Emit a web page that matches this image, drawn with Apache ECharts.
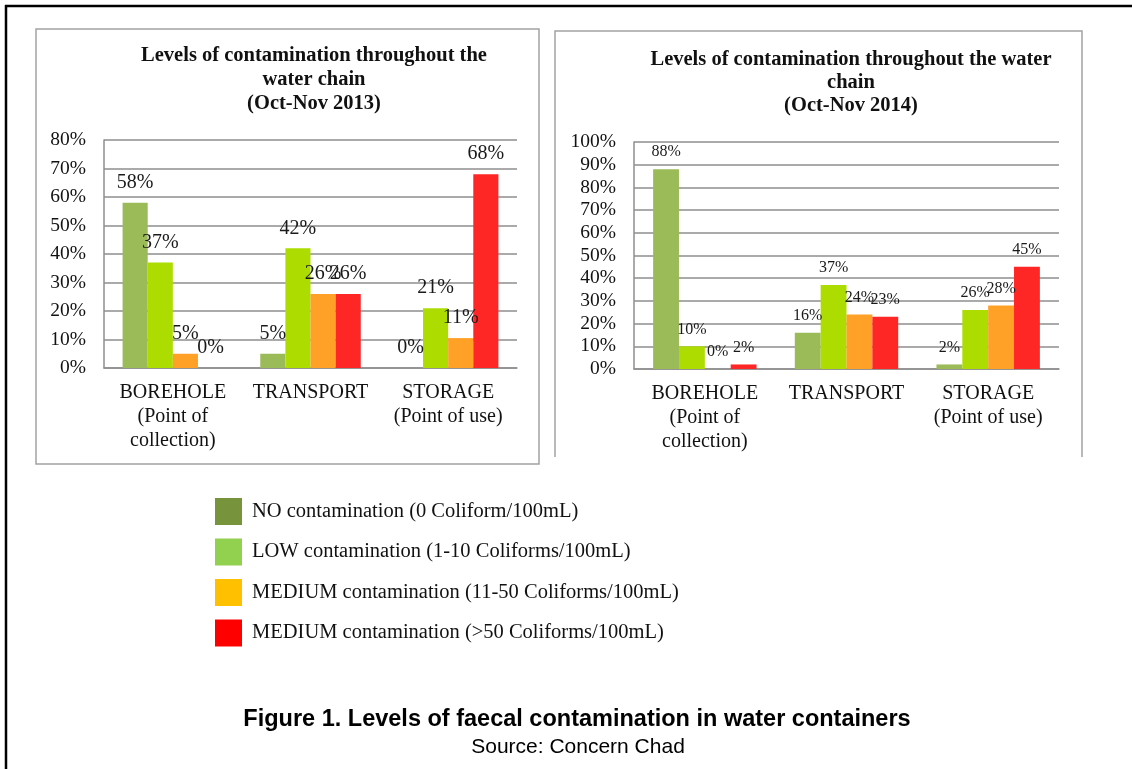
<!DOCTYPE html>
<html>
<head>
<meta charset="utf-8">
<script src="https://cdn.jsdelivr.net/npm/echarts@6/dist/echarts.min.js"></script>
<style>
  html, body { margin: 0; padding: 0; background: #fff; }
  #main { width: 1132px; height: 769px; }
</style>
</head>
<body>
<div id="main"></div>
<script>
// categories along the water chain
var categories = ['BOREHOLE\n(Point of\ncollection)', 'TRANSPORT', 'STORAGE\n(Point of use)'];
var seriesNames = [
  'NO contamination (0 Coliform/100mL)',
  'LOW contamination (1-10 Coliforms/100mL)',
  'MEDIUM contamination (11-50 Coliforms/100mL)',
  'MEDIUM contamination (>50 Coliforms/100mL)'
];

// Oct-Nov 2013 (%)
var none2013 = [58, 5, 0];
var low2013 = [37, 42, 21];
var medium2013 = [5, 26, 10.5];
var high2013 = [0, 26, 68];

// Oct-Nov 2014 (%)
var none2014 = [88, 16, 2];
var low2014 = [10, 37, 26];
var medium2014 = [0, 24, 28];
var high2014 = [2, 23, 45];

var ticks2013 = { min: 0, max: 80, interval: 10 };
var ticks2014 = { min: 0, max: 100, interval: 10 };

var barColors = ['#9bbb59', '#addc00', '#ffa126', '#ff2626'];
var legendColors = ['#77933c', '#92d050', '#ffc000', '#ff0000'];

var serif = 'Liberation Serif';
var gridGray = '#8e8e8e';

function makeSeries(data, idx, gridIdx, fontSize, dist) {
  return {
    name: seriesNames[idx],
    type: 'bar',
    xAxisIndex: gridIdx,
    yAxisIndex: gridIdx,
    data: data,
    barGap: '0%',
    barCategoryGap: '27%',
    itemStyle: { color: barColors[idx] },
    label: {
      show: true,
      position: 'top',
      distance: dist,
      fontFamily: serif,
      fontSize: fontSize,
      color: '#1a1a1a',
      formatter: function (p) { return Math.round(p.value) + '%'; }
    }
  };
}

function makeYAxis(gridIdx, t) {
  return {
    type: 'value',
    gridIndex: gridIdx,
    min: t.min,
    max: t.max,
    interval: t.interval,
    axisLine: { show: true, lineStyle: { color: gridGray, width: 1.5 } },
    axisTick: { show: false },
    axisLabel: { formatter: '{value}%', fontFamily: serif, fontSize: 19.5, color: '#111', margin: 18 },
    splitLine: { lineStyle: { color: gridGray, width: 1.5 } }
  };
}

function makeXAxis(gridIdx) {
  return {
    type: 'category',
    gridIndex: gridIdx,
    data: categories,
    axisLine: { lineStyle: { color: gridGray, width: 1.5 } },
    axisTick: { show: false },
    axisLabel: { fontFamily: serif, fontSize: 20, lineHeight: 24, color: '#111', margin: 13, interval: 0 }
  };
}

var chart = echarts.init(document.getElementById('main'), null, { renderer: 'canvas' });

var option = {
  animation: false,
  backgroundColor: '#fff',
  title: [
    {
      text: 'Levels of contamination throughout the\nwater chain\n(Oct-Nov 2013)',
      left: 309, top: 39, textAlign: 'center',
      textStyle: { fontFamily: serif, fontWeight: 'bold', fontSize: 20.5, lineHeight: 24, color: '#111' }
    },
    {
      text: 'Levels of contamination throughout the water\nchain\n(Oct-Nov 2014)',
      left: 846, top: 43, textAlign: 'center',
      textStyle: { fontFamily: serif, fontWeight: 'bold', fontSize: 20.5, lineHeight: 23, color: '#111' }
    },
    {
      text: 'Figure 1. Levels of faecal contamination in water containers',
      left: 572, top: 703, textAlign: 'center',
      textStyle: { fontFamily: 'Liberation Sans', fontWeight: 'bold', fontSize: 23.5, color: '#000' }
    },
    {
      text: 'Source: Concern Chad',
      left: 573, top: 732, textAlign: 'center',
      textStyle: { fontFamily: 'Liberation Sans', fontWeight: 'normal', fontSize: 21, color: '#000' }
    }
  ],
  legend: {
    orient: 'vertical',
    left: 210, top: 493,
    itemWidth: 27, itemHeight: 27, itemGap: 13.5,
    icon: 'rect',
    selectedMode: false,
    textStyle: { fontFamily: serif, fontSize: 20.5, color: '#111', padding: [0, 0, 0, 5] },
    data: seriesNames.map(function (n, i) {
      return { name: n, itemStyle: { color: legendColors[i] } };
    })
  },
  grid: [
    { left: 104, right: 1132 - 517, top: 140, height: 228 },
    { left: 634, right: 1132 - 1059, top: 142, height: 227 }
  ],
  xAxis: [makeXAxis(0), makeXAxis(1)],
  yAxis: [makeYAxis(0, ticks2013), makeYAxis(1, ticks2014)],
  series: [
    makeSeries(none2013, 0, 0, 20, 10),
    makeSeries(low2013, 1, 0, 20, 10),
    makeSeries(medium2013, 2, 0, 20, 10),
    makeSeries(high2013, 3, 0, 20, 10),
    makeSeries(none2014, 0, 1, 16, 9),
    makeSeries(low2014, 1, 1, 16, 9),
    makeSeries(medium2014, 2, 1, 16, 9),
    makeSeries(high2014, 3, 1, 16, 9)
  ],
  graphic: [
    // outer page frame (top and left edges)
    { type: 'line', shape: { x1: 5, y1: 6, x2: 1132, y2: 6 }, style: { stroke: '#000', lineWidth: 2.5 } },
    { type: 'line', shape: { x1: 6, y1: 5, x2: 6, y2: 769 }, style: { stroke: '#000', lineWidth: 2.5 } },
    // 2013 chart box
    { type: 'rect', shape: { x: 36, y: 29, width: 503, height: 435 }, style: { fill: null, stroke: '#a3a3a3', lineWidth: 1.5 } },
    // 2014 chart box (open at the bottom)
    { type: 'polyline', shape: { points: [[555, 457], [555, 31], [1082, 31], [1082, 457]] }, style: { fill: null, stroke: '#a3a3a3', lineWidth: 1.5 } }
  ]
};

chart.setOption(option);
</script>
</body>
</html>
